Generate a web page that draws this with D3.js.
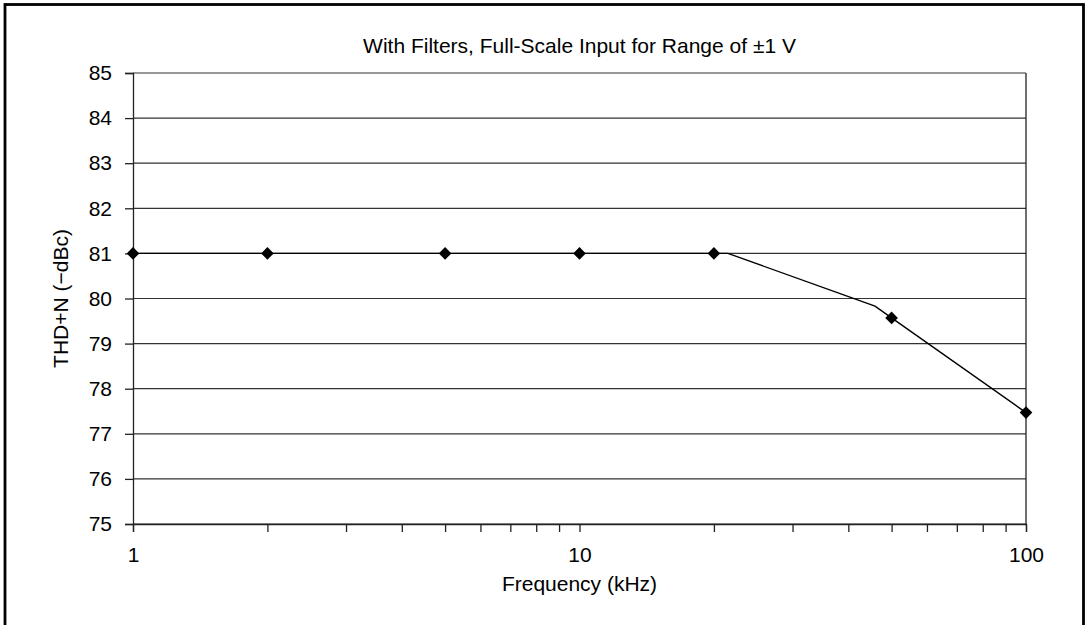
<!DOCTYPE html>
<html>
<head>
<meta charset="utf-8">
<script src="https://cdn.jsdelivr.net/npm/d3@7"></script>
<style>
  body { margin: 0; background: #fff; }
  text { font-family: "Liberation Sans", Arial, sans-serif; fill: #000; }
</style>
</head>
<body>
<svg width="1086" height="625"></svg>
<script>
// measured points (markers)
const freqs = [1, 2, 5, 10, 20, 50, 100];
const thd = [81, 81, 81, 81, 81, 79.57, 77.47];

// the plotted line does not pass exactly through every marker
const lineFreqs = [1, 2, 5, 10, 20, 21.5, 45.9, 50, 100];
const lineThd = [81, 81, 81, 81, 81, 81, 79.83, 79.57, 77.47];

const yTicks = [75, 76, 77, 78, 79, 80, 81, 82, 83, 84, 85];
const xLabels = [1, 10, 100];
const minorX = [2, 3, 4, 5, 6, 7, 8, 9, 20, 30, 40, 50, 60, 70, 80, 90];

const title = 'With Filters, Full-Scale Input for Range of \u00b11 V';
const xTitle = 'Frequency (kHz)';
const yTitle = 'THD+N (\u2212dBc)';

const FONT = '"Liberation Sans", Arial, sans-serif';
const FS = 21;

const svg = d3.select('svg');
const plotL = 133, plotR = 1026, plotT = 73, plotB = 524;

const x = d3.scaleLog().domain([1, 100]).range([plotL, plotR]);
const y = d3.scaleLinear().domain([75, 85]).range([plotB, plotT]);

// outer border
svg.append('rect')
  .attr('x', 5).attr('y', 4.5)
  .attr('width', 1078.5).attr('height', 640)
  .attr('fill', 'none')
  .attr('stroke', '#000')
  .attr('stroke-width', 2.8);

// horizontal grid
svg.append('g')
  .selectAll('line')
  .data(yTicks)
  .join('line')
  .attr('x1', plotL).attr('x2', plotR)
  .attr('y1', d => y(d)).attr('y2', d => y(d))
  .attr('stroke', '#333')
  .attr('stroke-width', 1.2);

// frame: right edge
svg.append('line')
  .attr('x1', plotR).attr('x2', plotR)
  .attr('y1', plotT).attr('y2', plotB)
  .attr('stroke', '#222')
  .attr('stroke-width', 1.3);

// y axis
const yAxis = svg.append('g')
  .attr('transform', `translate(${plotL},0)`)
  .call(d3.axisLeft(y).tickValues(yTicks).tickSize(8).tickPadding(13).tickFormat(d3.format('d')));
yAxis.select('.domain').attr('stroke', '#222').attr('stroke-width', 1.3);
yAxis.selectAll('.tick line').attr('stroke', '#222').attr('stroke-width', 1.3);
yAxis.selectAll('.tick text')
  .attr('font-size', FS)
  .attr('font-family', FONT)
  .attr('fill', '#000');

// x axis
const xAxis = svg.append('g')
  .attr('transform', `translate(0,${plotB})`)
  .call(d3.axisBottom(x).tickValues(xLabels.concat(minorX)).tickSize(8).tickPadding(15)
    .tickFormat(d => xLabels.includes(d) ? d : ''));
xAxis.select('.domain').attr('stroke', '#222').attr('stroke-width', 1.3);
xAxis.selectAll('.tick line').attr('stroke', '#222').attr('stroke-width', 1.3);
xAxis.selectAll('.tick text')
  .attr('font-size', FS)
  .attr('font-family', FONT)
  .attr('fill', '#000');

// data line
const lineData = lineFreqs.map((f, i) => [f, lineThd[i]]);
svg.append('path')
  .datum(lineData)
  .attr('d', d3.line().x(d => x(d[0])).y(d => y(d[1])))
  .attr('fill', 'none')
  .attr('stroke', '#000')
  .attr('stroke-width', 1.4);

// diamond markers
svg.append('g')
  .selectAll('path')
  .data(freqs.map((f, i) => [f, thd[i]]))
  .join('path')
  .attr('transform', d => `translate(${x(d[0])},${y(d[1])}) rotate(45)`)
  .attr('d', d3.symbol().type(d3.symbolSquare).size(80))
  .attr('fill', '#000');

// titles
svg.append('text')
  .attr('x', (plotL + plotR) / 2).attr('y', 53)
  .attr('text-anchor', 'middle')
  .attr('font-size', FS)
  .text(title);

svg.append('text')
  .attr('x', (plotL + plotR) / 2).attr('y', 591)
  .attr('text-anchor', 'middle')
  .attr('font-size', FS)
  .text(xTitle);

svg.append('text')
  .attr('transform', `translate(68,${(plotT + plotB) / 2}) rotate(-90)`)
  .attr('text-anchor', 'middle')
  .attr('font-size', FS)
  .text(yTitle);
</script>
</body>
</html>
